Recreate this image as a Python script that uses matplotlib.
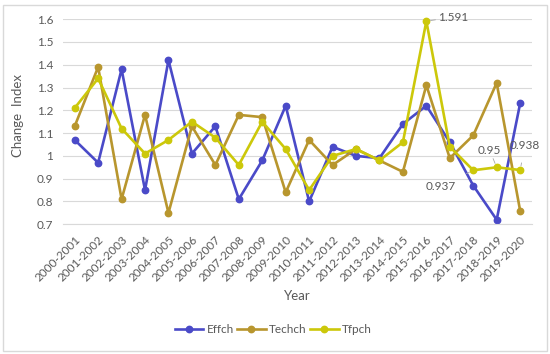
import matplotlib
matplotlib.use("Agg")
import matplotlib.pyplot as plt
from matplotlib.patches import Rectangle

years = [
    "2000-2001", "2001-2002", "2002-2003", "2003-2004", "2004-2005",
    "2005-2006", "2006-2007", "2007-2008", "2008-2009", "2009-2010",
    "2010-2011", "2011-2012", "2012-2013", "2013-2014", "2014-2015",
    "2015-2016", "2016-2017", "2017-2018", "2018-2019", "2019-2020",
]
effch = [1.07, 0.97, 1.38, 0.85, 1.42, 1.01, 1.13, 0.81, 0.98, 1.22,
         0.80, 1.04, 1.00, 0.99, 1.14, 1.22, 1.06, 0.87, 0.72, 1.23]
techch = [1.13, 1.39, 0.81, 1.18, 0.75, 1.13, 0.96, 1.18, 1.17, 0.84,
          1.07, 0.96, 1.03, 0.98, 0.93, 1.31, 0.99, 1.09, 1.32, 0.76]
tfpch = [1.21, 1.34, 1.12, 1.01, 1.07, 1.15, 1.08, 0.96, 1.15, 1.03,
         0.85, 1.00, 1.03, 0.98, 1.06, 1.591, 1.04, 0.937, 0.95, 0.938]

# labelled tfpch points: index -> text offset in pixels
labels = {15: (27, 4), 17: (-32, -16), 18: (-7, 17), 19: (5, 25)}

plt.rcParams["font.family"] = ["Lato", "DejaVu Sans"]
grey = "#595959"

fig = plt.figure(figsize=(5.5, 3.54), dpi=100)
ax = fig.add_axes([0.1145, 0.3664, 0.8525, 0.5796])
fig.patches.append(Rectangle((0.006, 0.008), 0.988, 0.978, transform=fig.transFigure,
                             fill=False, ec="#D9D9D9", lw=1))

x = list(range(len(years)))
series = [("Effch", effch, "#4A4AC8"), ("Techch", techch, "#B8962E"),
          ("Tfpch", tfpch, "#CCC80A")]
for name, vals, col in series:
    ax.plot(x, vals, "-o", color=col, lw=1.9, ms=4.6, label=name, clip_on=False)

for i, (dx, dy) in labels.items():
    ax.annotate(f"{tfpch[i]:g}", (i, tfpch[i]), xytext=(dx, dy), textcoords="offset pixels",
                ha="center", va="center", fontsize=8.5, color=grey,
                arrowprops=dict(arrowstyle="-", color="#A6A6A6", lw=0.6, shrinkA=7, shrinkB=3))

ax.set_xlim(-0.5, len(years) - 0.5)
ax.set_ylim(0.7, 1.6)
ax.set_yticks([0.7, 0.8, 0.9, 1.0, 1.1, 1.2, 1.3, 1.4, 1.5, 1.6])
ax.set_yticklabels(["0.7", "0.8", "0.9", "1", "1.1", "1.2", "1.3", "1.4", "1.5", "1.6"])
ax.set_xticks(x)
ax.set_xticklabels(years, rotation=45, ha="right", rotation_mode="anchor")
ax.tick_params(axis="both", length=0, colors=grey, labelsize=8.5)
ax.tick_params(axis="x", pad=7)
ax.tick_params(axis="y", pad=7)
ax.grid(axis="y", color="#D9D9D9", lw=0.8)
ax.set_axisbelow(True)
for s in ["top", "right", "left"]:
    ax.spines[s].set_visible(False)
ax.spines["bottom"].set_color("#D9D9D9")

ax.set_ylabel("Change  Index", color=grey, fontsize=9.5)
ax.yaxis.set_label_coords(-0.083, 0.53)
fig.text(0.54, 0.164, "Year", color=grey, fontsize=9.5, ha="center", va="center")
fig.legend(loc="center", bbox_to_anchor=(0.497, 0.068), ncol=3, frameon=False,
           fontsize=8.5, labelcolor=grey, handlelength=2.4, columnspacing=0.3,
           handletextpad=0.3)

fig.savefig("out.png", dpi=100)
